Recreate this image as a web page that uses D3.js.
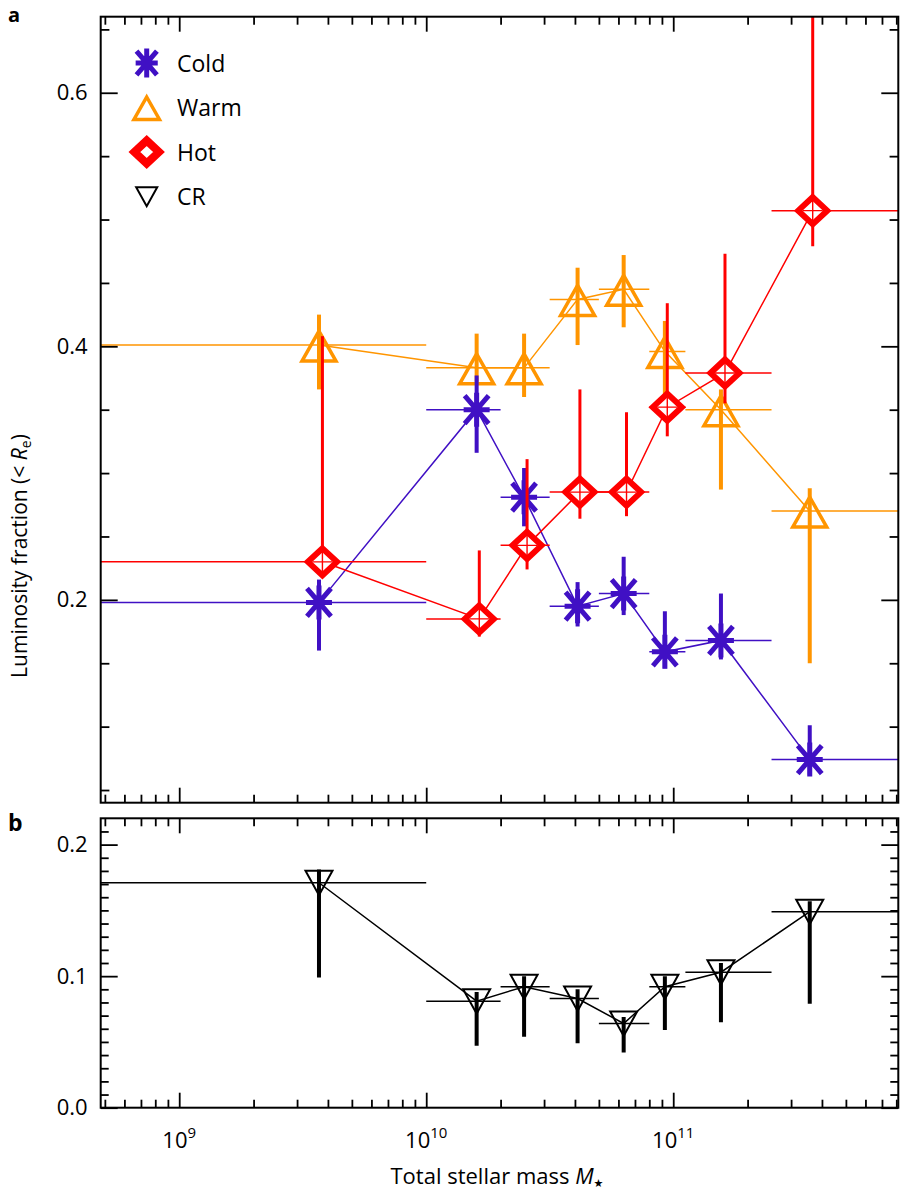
<!DOCTYPE html>
<html><head><meta charset="utf-8">
<script src="https://cdn.jsdelivr.net/npm/d3@7"></script>
<style>body{margin:0;background:#fff} text{font-family:"Open Sans","Noto Sans",sans-serif;fill:#000}</style>
</head><body><svg id="c" width="900" height="1192"></svg>
<script>
// ---------- DATA ----------
const seriesNames = ["Cold", "Warm", "Hot", "CR"];
const massCenters = [3.68e9, 1.6e10, 2.49e10, 4.1e10, 6.3e10, 9.25e10, 1.56e11, 3.57e11];
const massHot     = [3.8e9, 1.64e10, 2.56e10, 4.19e10, 6.47e10, 9.46e10, 1.62e11, 3.67e11];
const binEdges    = [1e8, 1e10, 2e10, 3.16e10, 5e10, 8e10, 1.12e11, 2.5e11, 3e12];

const coldVal = [0.198, 0.350, 0.281, 0.195, 0.205, 0.159, 0.168, 0.074];
const coldLo  = [0.160, 0.316, 0.258, 0.179, 0.188, 0.146, 0.153, 0.062];
const coldHi  = [0.216, 0.377, 0.304, 0.214, 0.234, 0.191, 0.205, 0.101];

const warmVal = [0.401, 0.383, 0.383, 0.437, 0.445, 0.396, 0.350, 0.270];
const warmLo  = [0.366, 0.372, 0.360, 0.401, 0.415, 0.345, 0.287, 0.150];
const warmHi  = [0.425, 0.410, 0.410, 0.462, 0.472, 0.420, 0.366, 0.288];

const hotVal  = [0.230, 0.185, 0.243, 0.285, 0.285, 0.352, 0.379, 0.507];
const hotLo   = [0.218, 0.171, 0.224, 0.264, 0.266, 0.329, 0.355, 0.479];
const hotHi   = [0.408, 0.239, 0.311, 0.366, 0.348, 0.434, 0.473, 0.700];

const crVal   = [0.171, 0.081, 0.092, 0.083, 0.064, 0.092, 0.103, 0.149];
const crLo    = [0.099, 0.047, 0.054, 0.049, 0.042, 0.059, 0.065, 0.079];
const crHi    = [0.181, 0.088, 0.100, 0.090, 0.069, 0.100, 0.110, 0.157];

const xMajor = [1e9, 1e10, 1e11];
const xMajorExp = ["9", "10", "11"];
const yTopMajor = [0.2, 0.4, 0.6];
const yTopLabels = ["0.2", "0.4", "0.6"];
const yBotMajor = [0.0, 0.1, 0.2];
const yBotLabels = ["0.0", "0.1", "0.2"];

// ---------- LAYOUT ----------
const L = 100.7, R = 898.3;
const topT = 16.7, topB = 802.7, botT = 818.3, botB = 1107.7;
const C = {cold: "#4010c4", warm: "#ff9500", hot: "#ff0000", cr: "#000"};

const svg = d3.select("#c");
svg.append("rect").attr("width", 900).attr("height", 1192).attr("fill", "#fff");

const x = d3.scaleLog().domain([4.81e8, 8.15e11]).range([L, R]);
const yTop = d3.scaleLinear().domain([0.04, 0.66]).range([topB, topT]);
const yBot = d3.scaleLinear().domain([0, 0.22]).range([botB, botT]);

const defs = svg.append("defs");
defs.append("clipPath").attr("id", "clipTop").append("rect").attr("x", L).attr("y", topT).attr("width", R - L).attr("height", topB - topT);
defs.append("clipPath").attr("id", "clipBot").append("rect").attr("x", L).attr("y", botT).attr("width", R - L).attr("height", botB - botT);

// minor ticks
const [d0, d1] = x.domain();
const xMinor = [];
for (let e = 8; e <= 11; e++) for (let m = 2; m <= 9; m++) { const v = m * Math.pow(10, e); if (v >= d0 && v <= d1) xMinor.push(v); }
const yTopMinor = d3.range(0.05, 0.66, 0.05).filter(v => !yTopMajor.some(m => Math.abs(m - v) < 1e-6));
const yBotMinor = d3.range(0.01, 0.22, 0.01).filter(v => !yBotMajor.some(m => Math.abs(m - v) < 1e-6));

function styleAxis(g) {
  g.select(".domain").remove();
  g.selectAll(".tick line").attr("stroke", "#000").attr("stroke-width", 1.8);
}
function frameAxes(yScale, T, B, yMaj, yMin, majLenY, minLenY) {
  const ax = svg.append("g");
  ax.append("g").attr("transform", `translate(0,${B})`).call(d3.axisBottom(x).tickValues(xMinor).tickSize(-8).tickFormat("")).call(styleAxis);
  ax.append("g").attr("transform", `translate(0,${B})`).call(d3.axisBottom(x).tickValues(xMajor).tickSize(-15).tickFormat("")).call(styleAxis);
  ax.append("g").attr("transform", `translate(0,${T})`).call(d3.axisTop(x).tickValues(xMinor).tickSize(-8).tickFormat("")).call(styleAxis);
  ax.append("g").attr("transform", `translate(0,${T})`).call(d3.axisTop(x).tickValues(xMajor).tickSize(-15).tickFormat("")).call(styleAxis);
  ax.append("g").attr("transform", `translate(${L},0)`).call(d3.axisLeft(yScale).tickValues(yMin).tickSize(-minLenY).tickFormat("")).call(styleAxis);
  ax.append("g").attr("transform", `translate(${R},0)`).call(d3.axisRight(yScale).tickValues(yMin).tickSize(-minLenY).tickFormat("")).call(styleAxis);
  ax.append("g").attr("transform", `translate(${R},0)`).call(d3.axisRight(yScale).tickValues(yMaj).tickSize(-majLenY).tickFormat("")).call(styleAxis);
  ax.append("rect").attr("x", L).attr("y", T).attr("width", R - L).attr("height", B - T)
    .attr("fill", "none").attr("stroke", "#000").attr("stroke-width", 2);
  return ax;
}

// ---------- markers ----------
const sym = {
  cold: (s) => `M${-13*s},0H${13*s}M0,${-17*s}V${17*s}M${-12*s},${-14*s}L${12*s},${14*s}M${-12*s},${14*s}L${12*s},${-14*s}`,
  warm: (s) => `M0,${-14*s}L${17*s},${16*s}L${-17*s},${16*s}Z`,
  hot:  (s) => `M0,${-13.5*s}L${14.5*s},0L0,${13.5*s}L${-14.5*s},0Z`,
  cr:   (s) => `M${-13.5*s},${-12*s}L${13.5*s},${-12*s}L0,${12.5*s}Z`
};
function marker(g, kind, s, legend) {
  const col = C[kind];
  if (kind === "cold") g.append("path").attr("d", sym.cold(s)).attr("stroke", col).attr("stroke-width", 5).attr("fill", "none");
  if (kind === "warm") g.append("path").attr("d", sym.warm(s)).attr("stroke", col).attr("stroke-width", 3.5).attr("fill", "none");
  if (kind === "cr") g.append("path").attr("d", sym.cr(s)).attr("stroke", col).attr("stroke-width", 2).attr("fill", "none");
  if (kind === "hot") {
    g.append("path").attr("d", sym.hot(s)).attr("stroke", col).attr("stroke-width", legend ? 8 : 6).attr("fill", "#fff").attr("stroke-linejoin", "miter");
    if (!legend) g.append("path").attr("d", "M-10,0H10M0,-10V10").attr("stroke", col).attr("stroke-width", 1.4);
  }
}

function drawSeries(g, y, xs, val, lo, hi, kind, ew) {
  const col = C[kind];
  const sg = g.append("g");
  sg.selectAll(null).data(val).join("line")
    .attr("x1", (d, i) => x(binEdges[i])).attr("x2", (d, i) => x(binEdges[i + 1]))
    .attr("y1", d => y(d)).attr("y2", d => y(d))
    .attr("stroke", col).attr("stroke-width", 1.5);
  sg.append("path").datum(val)
    .attr("d", d3.line().x((d, i) => x(xs[i])).y(d => y(d)))
    .attr("fill", "none").attr("stroke", col).attr("stroke-width", 1.5);
  sg.selectAll(null).data(val).join("line")
    .attr("x1", (d, i) => x(xs[i])).attr("x2", (d, i) => x(xs[i]))
    .attr("y1", (d, i) => y(lo[i])).attr("y2", (d, i) => y(hi[i]))
    .attr("stroke", col).attr("stroke-width", ew);
  val.forEach((d, i) => {
    const mg = sg.append("g").attr("transform", `translate(${x(xs[i])},${y(d)})`);
    marker(mg, kind, 1, false);
  });
}

// ---------- TOP PANEL ----------
const gTop = svg.append("g").attr("clip-path", "url(#clipTop)");
drawSeries(gTop, yTop, massCenters, warmVal, warmLo, warmHi, "warm", 4);
drawSeries(gTop, yTop, massCenters, coldVal, coldLo, coldHi, "cold", 4);
drawSeries(gTop, yTop, massHot, hotVal, hotLo, hotHi, "hot", 3);

const axTop = frameAxes(yTop, topT, topB, yTopMajor, yTopMinor, 17, 8.7);
axTop.append("g").attr("transform", `translate(${L},0)`)
  .call(d3.axisLeft(yTop).tickValues(yTopMajor).tickSize(-17).tickPadding(13).tickFormat((d, i) => yTopLabels[i]))
  .call(styleAxis)
  .call(g => g.selectAll("text").attr("font-size", 22).attr("fill", "#000").attr("font-family", "'Open Sans',sans-serif"));

// legend
const legKinds = ["cold", "warm", "hot", "cr"];
const legScale = [0.85, 0.75, 0.85, 0.78];
legKinds.forEach((k, i) => {
  const cy = 63 + i * 44.5;
  const lg = svg.append("g").attr("transform", `translate(146.7,${cy})`);
  marker(lg, k, legScale[i], true);
  svg.append("text").attr("x", 177).attr("y", cy + 8.5).attr("font-size", 23).text(seriesNames[i]);
});

// ---------- BOTTOM PANEL ----------
const gBot = svg.append("g").attr("clip-path", "url(#clipBot)");
drawSeries(gBot, yBot, massCenters, crVal, crLo, crHi, "cr", 4);

const axBot = frameAxes(yBot, botT, botB, yBotMajor, yBotMinor, 17, 8);
axBot.append("g").attr("transform", `translate(${L},0)`)
  .call(d3.axisLeft(yBot).tickValues(yBotMajor).tickSize(-17).tickPadding(13).tickFormat((d, i) => yBotLabels[i]))
  .call(styleAxis)
  .call(g => g.selectAll("text").attr("font-size", 22).attr("fill", "#000").attr("font-family", "'Open Sans',sans-serif"));

// x tick labels with superscripts
xMajor.forEach((v, i) => {
  const t = svg.append("text").attr("x", x(v)).attr("y", 1148).attr("text-anchor", "middle").attr("font-size", 22);
  t.append("tspan").text("10");
  t.append("tspan").attr("dy", -10).attr("font-size", 15).text(xMajorExp[i]);
});

// axis titles
const xt = svg.append("text").attr("x", 497).attr("y", 1184).attr("text-anchor", "middle").attr("font-size", 22);
xt.append("tspan").text("Total stellar mass ");
xt.append("tspan").attr("font-style", "italic").text("M");
xt.append("tspan").attr("font-size", 11).attr("dy", 3).attr("font-family", "DejaVu Sans").text("★");

const yt = svg.append("text").attr("transform", "translate(27,556) rotate(-90)").attr("text-anchor", "middle").attr("font-size", 21);
yt.append("tspan").text("Luminosity fraction (< ");
yt.append("tspan").attr("font-style", "italic").text("R");
yt.append("tspan").attr("font-size", 14).attr("dy", 4).text("e");
yt.append("tspan").attr("dy", -4).text(")");

// panel labels
svg.append("text").attr("x", 8).attr("y", 22).attr("font-size", 20).attr("font-weight", "bold").text("a");
svg.append("text").attr("x", 8).attr("y", 831).attr("font-size", 23).attr("font-weight", "bold").text("b");
</script></body></html>
